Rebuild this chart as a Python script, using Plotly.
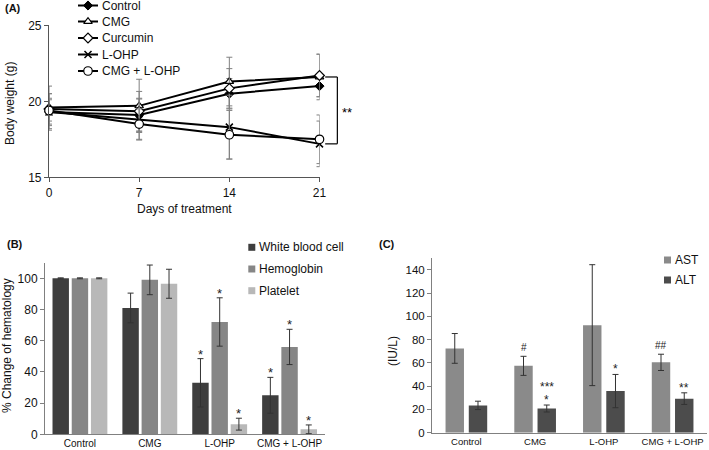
import plotly.graph_objects as go

W, H = 709, 450
FONT = "Arial, Liberation Sans, sans-serif"

# ---------------- Panel A data ----------------
days = [0, 7, 14, 21]
bw_series = ["Control", "CMG", "Curcumin", "L-OHP", "CMG + L-OHP"]
bw_control = [19.3, 19.1, 20.5, 21.0]
bw_cmg = [19.6, 19.7, 21.3, 21.6]
bw_curcumin = [19.5, 19.35, 20.85, 21.7]
bw_lohp = [19.3, 18.8, 18.3, 17.2]
bw_cmg_lohp = [19.4, 18.5, 17.8, 17.5]
bw_control_err = [0.9, 1.1, 1.0, 0.7]
bw_cmg_err = [1.4, 1.75, 1.6, 1.5]
bw_curcumin_err = [1.0, 1.3, 1.3, 1.4]
bw_lohp_err = [1.2, 1.35, 2.1, 1.5]
bw_cmg_lohp_err = [0.7, 1.0, 1.6, 1.6]

# ---------------- Panel B data ----------------
groups = ["Control", "CMG", "L-OHP", "CMG + L-OHP"]
hem_series = ["White blood cell", "Hemoglobin", "Platelet"]
wbc = [100, 81, 33, 25]
hb = [100, 99, 72, 56]
plt_ = [100, 96.5, 6.5, 3.2]
wbc_err = [0.3, 9.5, 15.5, 11.5]
hb_err = [0.3, 9.5, 15.5, 11.3]
plt_err = [0.3, 9.3, 3.8, 2.8]
wbc_sig = ["", "", "*", "*"]
hb_sig = ["", "", "*", "*"]
plt_sig = ["", "", "*", "*"]

# ---------------- Panel C data ----------------
enz_series = ["AST", "ALT"]
ast = [72.5, 57.5, 92.5, 60.5]
alt = [23.5, 20.8, 35.8, 29.3]
ast_err = [12.8, 8.2, 52.0, 7.0]
alt_err = [3.6, 3.0, 14.3, 5.0]
ast_sig = ["", "#", "", "##"]
alt_sig = ["", "*", "*", "**"]
alt_sig2 = ["", "***", "", ""]


def px_x(p):
    return p / W


def px_y(p):
    return 1 - p / H


fig = go.Figure()
annotations = []
shapes = []


def lab(text, x, y, size=12, bold=False, angle=0, xanchor="center"):
    annotations.append(dict(x=px_x(x), y=px_y(y), xref="paper", yref="paper",
                            text=f"<b>{text}</b>" if bold else text, showarrow=False,
                            textangle=angle, xanchor=xanchor, yanchor="middle",
                            font=dict(size=size, color="#111", family=FONT)))


# ---------- Panel A traces ----------
styles = [
    dict(symbol="diamond", size=7, color="black", line=dict(color="black", width=1)),
    dict(symbol="triangle-up", size=7.5, color="white", line=dict(color="black", width=1.2)),
    dict(symbol="diamond", size=7.5, color="white", line=dict(color="black", width=1.2)),
    dict(symbol="x-thin", size=7, color="black", line=dict(color="black", width=1.5)),
    dict(symbol="circle", size=8.5, color="white", line=dict(color="black", width=1.2)),
]
bw_vals = [bw_control, bw_cmg, bw_curcumin, bw_lohp, bw_cmg_lohp]
bw_errs = [bw_control_err, bw_cmg_err, bw_curcumin_err, bw_lohp_err, bw_cmg_lohp_err]
for name, vals, errs, st in zip(bw_series, bw_vals, bw_errs, styles):
    fig.add_trace(go.Scatter(
        x=days, y=vals, name=name, mode="lines+markers",
        line=dict(color="black", width=2),
        marker=st,
        error_y=dict(type="data", array=errs, color="#808080", thickness=1, width=3),
        cliponaxis=False, showlegend=False,
        xaxis="x", yaxis="y",
    ))

# legend for panel A drawn on a hidden pixel-space overlay axis
leg_y = [5.5, 21.5, 38.0, 54.5, 71.0]
for name, st, yy in zip(bw_series, styles, leg_y):
    fig.add_trace(go.Scatter(x=[78, 98], y=[yy, yy], mode="lines",
                             line=dict(color="black", width=2), showlegend=False,
                             hoverinfo="skip", cliponaxis=False, xaxis="x4", yaxis="y4"))
    fig.add_trace(go.Scatter(x=[88], y=[yy], mode="markers", marker=st, showlegend=False,
                             hoverinfo="skip", cliponaxis=False, xaxis="x4", yaxis="y4"))
    lab(name, 99.5, yy, size=12, xanchor="left")

# ---------- Panel B traces ----------
b_cols = ["#3e3e3e", "#868686", "#b8b8b8"]
b_offsets = [-0.275, 0.0, 0.275]
b_width = 0.235
b_vals = [wbc, hb, plt_]
b_errs = [wbc_err, hb_err, plt_err]
b_sigs = [wbc_sig, hb_sig, plt_sig]
gx = list(range(len(groups)))
for name, vals, errs, col, off in zip(hem_series, b_vals, b_errs, b_cols, b_offsets):
    fig.add_trace(go.Bar(
        x=gx, y=vals, name=name, marker=dict(color=col, line=dict(width=0)),
        offset=off - b_width / 2, width=b_width,
        error_y=dict(type="data", array=errs, color="#333333", thickness=1, width=3),
        showlegend=False, xaxis="x2", yaxis="y2",
    ))

# ---------- Panel C traces ----------
c_cols = ["#8a8a8a", "#4c4c4c"]
c_offsets = [-0.169, 0.169]
c_width = 0.268
c_vals = [ast, alt]
c_errs = [ast_err, alt_err]
for name, vals, errs, col, off in zip(enz_series, c_vals, c_errs, c_cols, c_offsets):
    fig.add_trace(go.Bar(
        x=gx, y=vals, name=name, marker=dict(color=col, line=dict(width=0)),
        offset=off - c_width / 2, width=c_width,
        error_y=dict(type="data", array=errs, color="#333333", thickness=1, width=3),
        showlegend=False, xaxis="x3", yaxis="y3",
    ))

# significance marks panel B
for vals, errs, sigs, off in zip(b_vals, b_errs, b_sigs, b_offsets):
    for i, s in enumerate(sigs):
        if s:
            annotations.append(dict(x=i + off, y=vals[i] + errs[i], xref="x2", yref="y2",
                                    text=s, showarrow=False, yanchor="bottom",
                                    yshift=-5, font=dict(size=13, color="#222")))
# significance marks panel C
for vals, errs, sigs, off in zip(c_vals, c_errs, [ast_sig, alt_sig], c_offsets):
    for i, s in enumerate(sigs):
        if s:
            annotations.append(dict(x=i + off, y=vals[i] + errs[i], xref="x3", yref="y3",
                                    text=s, showarrow=False, yanchor="bottom",
                                    yshift=-4 if "#" not in s else 1,
                                    font=dict(size=12 if "#" not in s else 10, color="#222")))
for i, s in enumerate(alt_sig2):
    if s:
        annotations.append(dict(x=i + c_offsets[1], y=alt[i] + alt_err[i], xref="x3", yref="y3",
                                text=s, showarrow=False, yanchor="bottom",
                                yshift=9, font=dict(size=12, color="#222")))

# bracket panel A (y domain coords computed from axis range)
ya_min, ya_max = 15, 25
top_v = max(bw_cmg[-1], bw_curcumin[-1]) - 0.1
bot_v = min(bw_lohp[-1], bw_cmg_lohp[-1])


def yd(v):
    return (v - ya_min) / (ya_max - ya_min)


bx0, bx1 = 1.021, 1.066
for v in (top_v, bot_v):
    shapes.append(dict(type="line", xref="x domain", yref="y domain",
                       x0=bx0, x1=bx1, y0=yd(v), y1=yd(v),
                       line=dict(color="black", width=1.2)))
shapes.append(dict(type="line", xref="x domain", yref="y domain",
                   x0=bx1, x1=bx1, y0=yd(bot_v), y1=yd(top_v),
                   line=dict(color="black", width=1.2)))
annotations.append(dict(x=bx1 + 0.008, y=yd((top_v + bot_v) / 2), xref="x domain", yref="y domain",
                        text="**", showarrow=False, xanchor="left", yanchor="middle",
                        yshift=-2, font=dict(size=13, color="black")))

lab("(A)", 3, 8.5, size=11, bold=True, xanchor="left")
lab("(B)", 5, 244, size=11, bold=True, xanchor="left")
lab("(C)", 377, 243.5, size=11, bold=True, xanchor="left")
lab("Body weight (g)", 10, 104, size=12, angle=-90)
lab("Days of treatment", 184, 208.5, size=12)
lab("% Change of hematology", 7, 346, size=12, angle=-90)
lab("(IU/L)", 393, 351, size=12, angle=-90)


# manual legends for bar panels
def sq_legend(names, cols, x_sq, y_list, size=7):
    for nm, col, yy in zip(names, cols, y_list):
        shapes.append(dict(type="rect", xref="paper", yref="paper",
                           x0=px_x(x_sq), x1=px_x(x_sq + size),
                           y0=px_y(yy + size / 2), y1=px_y(yy - size / 2),
                           fillcolor=col, line=dict(width=0)))
        lab(nm, x_sq + size + 1.5, yy, size=12, xanchor="left")


sq_legend(hem_series, b_cols, 248.3, [247.3, 269.0, 290.7])
sq_legend(enz_series, c_cols, 664.0, [260.0, 280.0])

axis_common = dict(showgrid=False, zeroline=False, showline=True, ticks="outside",
                   ticklen=4, mirror=False)

fig.update_layout(
    width=W, height=H, margin=dict(l=0, r=0, t=0, b=0, autoexpand=False),
    paper_bgcolor="white", plot_bgcolor="rgba(0,0,0,0)",
    font=dict(family=FONT, size=12, color="#111"),
    barmode="overlay", showlegend=False,
    xaxis=dict(domain=[px_x(49), px_x(319.5)], range=[0, 21], tickvals=days,
               linecolor="#555", tickcolor="#555", linewidth=1.2,
               anchor="y", tickfont=dict(size=12), **axis_common),
    yaxis=dict(domain=[px_y(177.3), px_y(25.3)], range=[ya_min, ya_max], dtick=5,
               linecolor="#555", tickcolor="#555", linewidth=1.2,
               anchor="x", tickfont=dict(size=12), **axis_common),
    xaxis2=dict(domain=[px_x(45), px_x(324.5)], range=[-0.5, 3.5], tickvals=gx, ticktext=groups,
                linecolor="#808080", tickcolor="#808080", ticks="", showgrid=False,
                zeroline=False, showline=True, anchor="y2", tickfont=dict(size=10, color="#111")),
    yaxis2=dict(domain=[px_y(434.3), px_y(262.7)], range=[0, 110], tickvals=[0, 20, 40, 60, 80, 100],
                linecolor="#808080", tickcolor="#808080",
                anchor="x2", tickfont=dict(size=12), **axis_common),
    xaxis3=dict(domain=[px_x(432), px_x(707)], range=[-0.5, 3.5], tickvals=gx, ticktext=groups,
                linecolor="#808080", tickcolor="#808080", ticks="", showgrid=False,
                zeroline=False, showline=True, anchor="y3", tickfont=dict(size=9.5, color="#111")),
    yaxis3=dict(domain=[px_y(432.7), px_y(258.3)], range=[0, 150], tickvals=[0, 20, 40, 60, 80, 100, 120, 140],
                linecolor="#808080", tickcolor="#808080",
                anchor="x3", tickfont=dict(size=11.5), **axis_common),
    xaxis4=dict(domain=[0, 1], range=[0, W], visible=False, fixedrange=True, anchor="y4"),
    yaxis4=dict(domain=[0, 1], range=[H, 0], visible=False, fixedrange=True, anchor="x4"),
    annotations=annotations,
    shapes=shapes,
)

fig.write_html("out.html", config={"displayModeBar": False},
               post_script="document.body.style.margin='0';document.body.style.padding='0';")
